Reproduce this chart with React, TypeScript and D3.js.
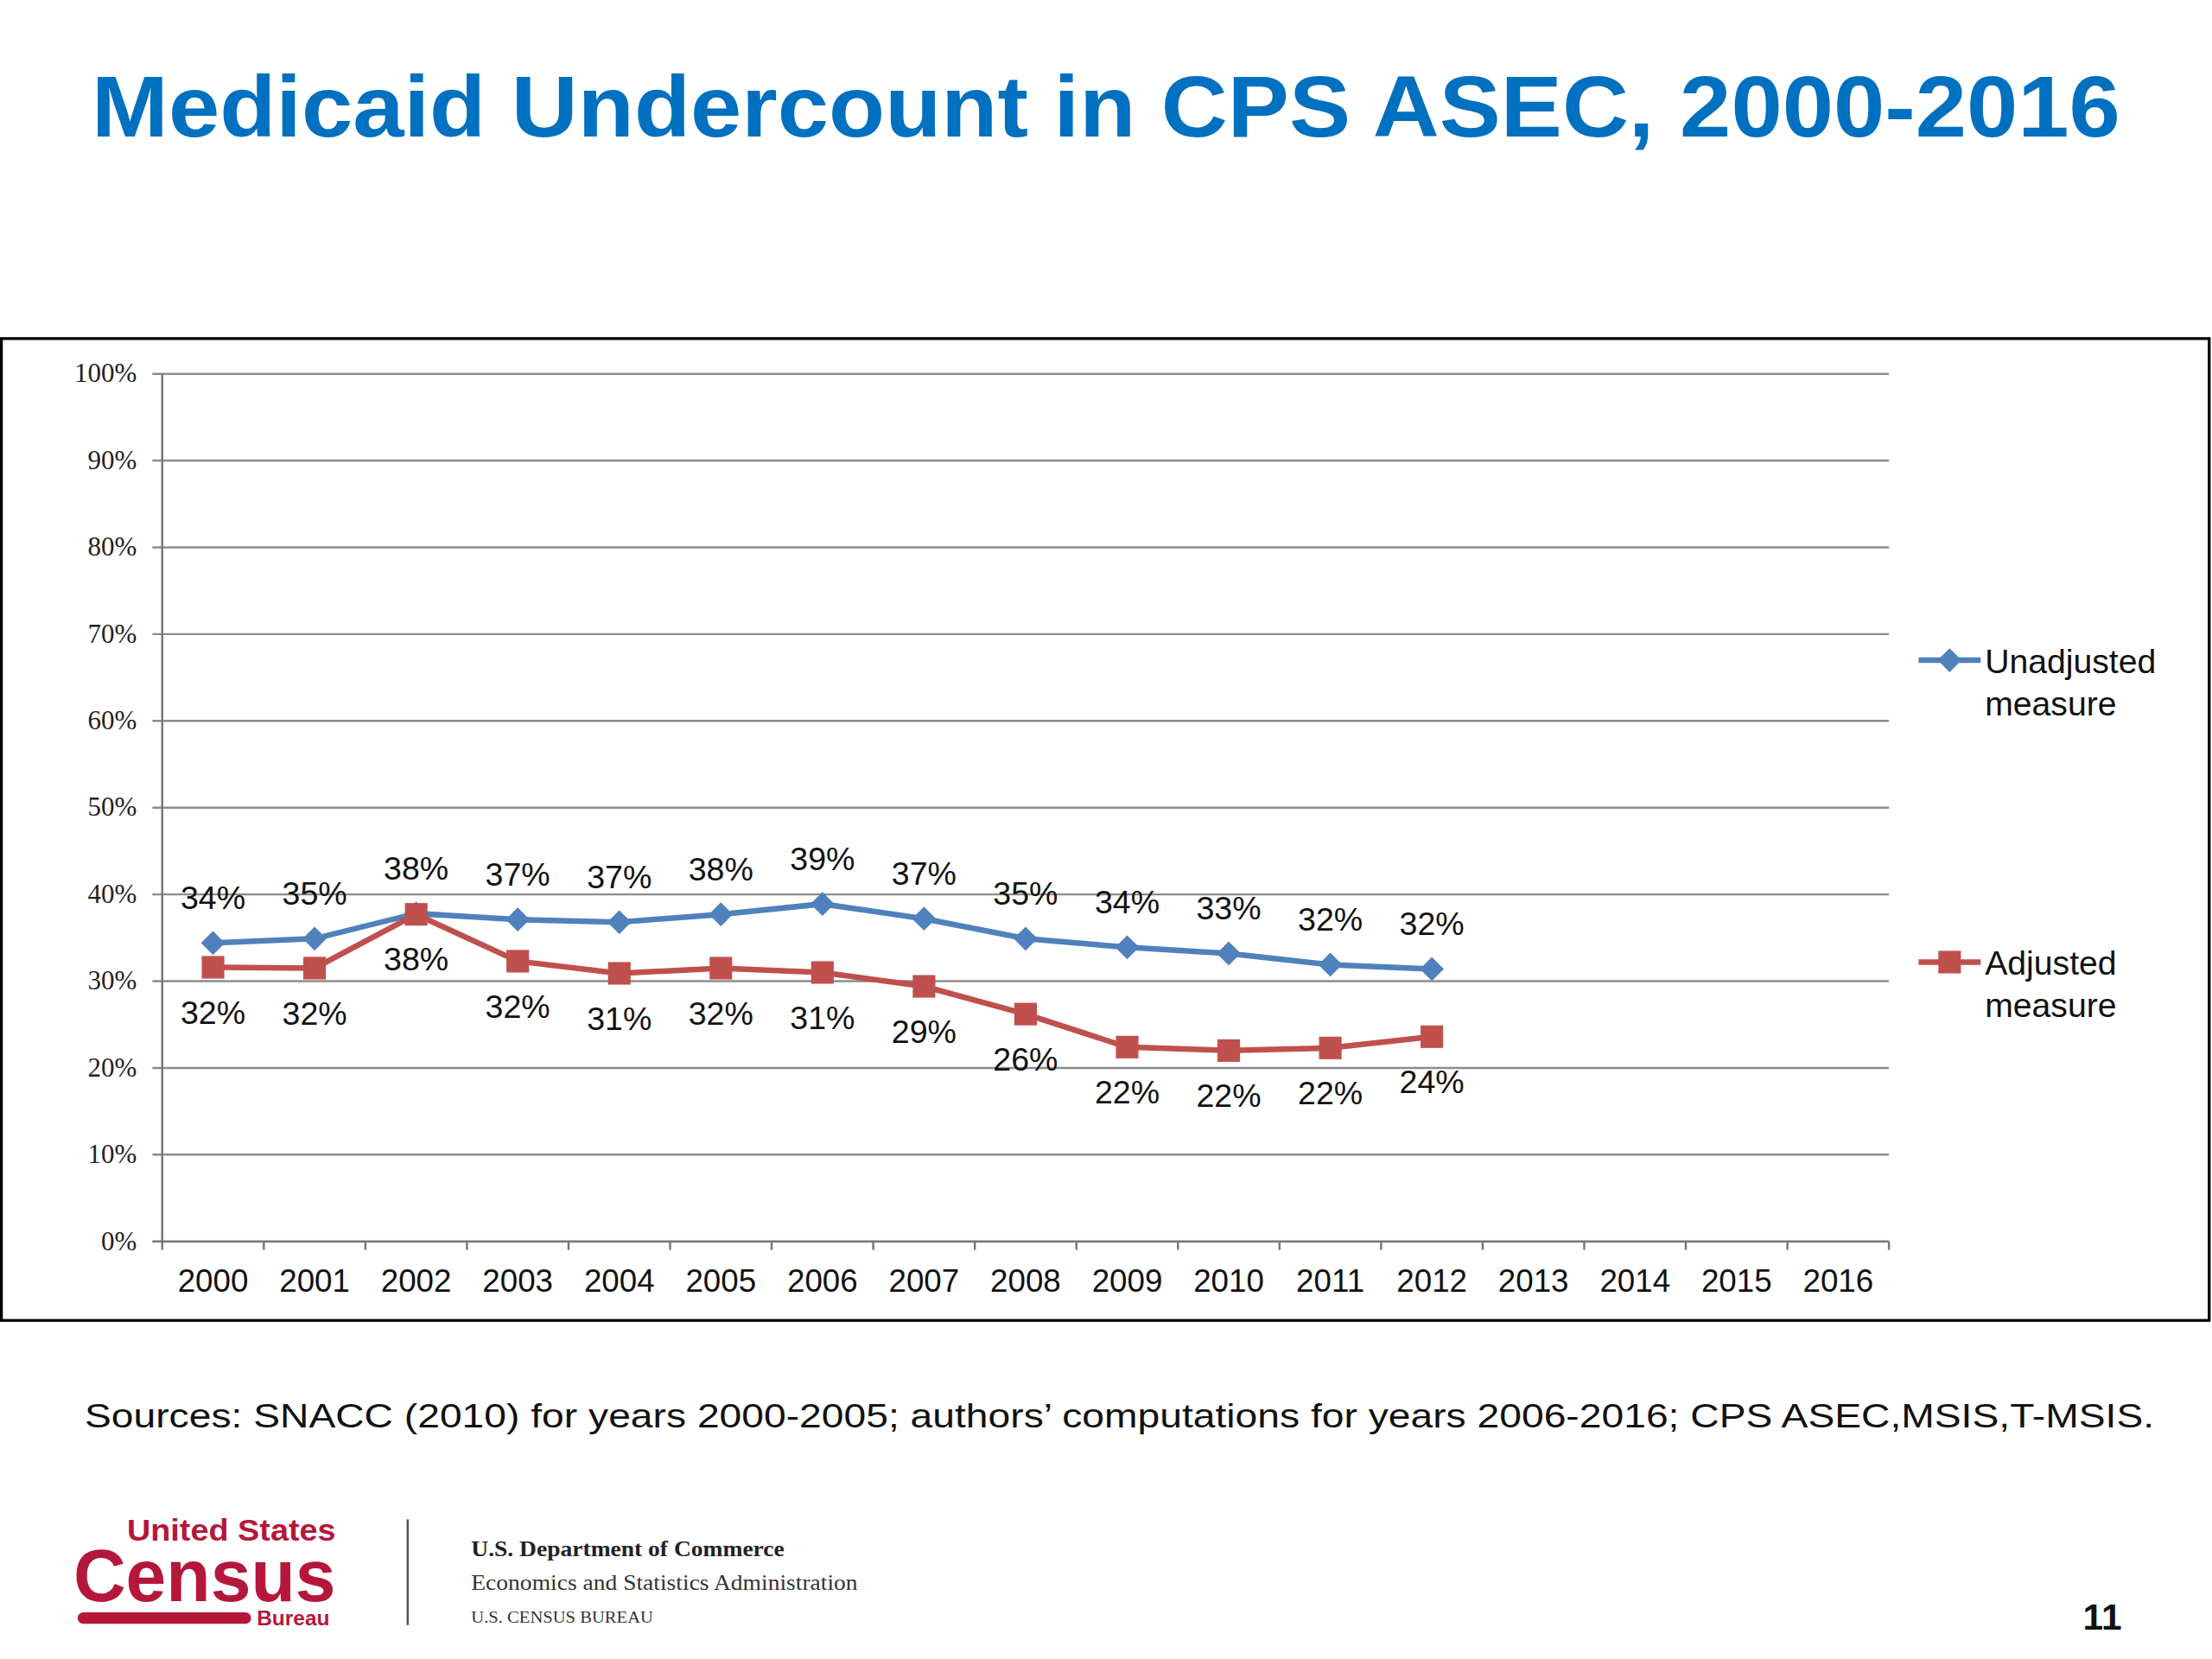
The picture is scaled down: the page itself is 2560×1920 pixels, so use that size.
import * as d3 from 'd3';

const years = ['2000','2001','2002','2003','2004','2005','2006','2007','2008','2009','2010','2011','2012','2013','2014','2015','2016'];
const unadjusted = [34.4, 34.9, 37.8, 37.1, 36.8, 37.7, 38.9, 37.2, 34.9, 33.9, 33.2, 31.9, 31.4];
const adjusted = [31.6, 31.5, 37.7, 32.3, 30.9, 31.5, 31.0, 29.4, 26.2, 22.4, 22.0, 22.3, 23.6];
const unadjustedLabels = ['34%','35%','38%','37%','37%','38%','39%','37%','35%','34%','33%','32%','32%'];
const adjustedLabels = ['32%','32%','38%','32%','31%','32%','31%','29%','26%','22%','22%','22%','24%'];
const yTicks = [0, 10, 20, 30, 40, 50, 60, 70, 80, 90, 100];

const BLUE = '#4f81bd';
const RED = '#c0504d';
const SANS = 'Arial, "Liberation Sans", sans-serif';
const SERIF = '"Times New Roman", "Liberation Serif", serif';

export default function App() {
  const W = 1568, H = 1176;
  const x = d3.scaleBand().domain(years).range([115, 1339]);
  const cx = (i: number) => x(years[i])! + x.bandwidth() / 2;
  const y = d3.scaleLinear().domain([0, 100]).range([880, 265]);
  const line = d3.line<number>().x((_, i) => cx(i)).y((d) => y(d));

  return (
    <div style={{ position: 'absolute', left: 0, top: 0 }}>
      <svg width={2560} height={1920} viewBox={`0 0 ${W} ${H}`}>
        <rect width={W} height={H} fill="#fff" />
        <text x={65} y={97} fontFamily={SANS} fontWeight="bold" fontSize={61} fill="#0070c0"
          textLength={1438} lengthAdjust="spacingAndGlyphs">
          Medicaid Undercount in CPS ASEC, 2000-2016
        </text>
        <rect x={1} y={240} width={1565} height={696} fill="none" stroke="#000" strokeWidth={2} />

        {yTicks.map((t) => (
          <g key={t}>
            <line x1={108} x2={1339} y1={y(t)} y2={y(t)} stroke={t === 0 ? '#777' : '#8c8c8c'} strokeWidth={1.5} />
            <text x={97} y={y(t) + 6} textAnchor="end" fontFamily={SERIF} fontSize={19} fill="#222">{t}%</text>
          </g>
        ))}
        <line x1={115} x2={115} y1={265} y2={886} stroke="#777" strokeWidth={1.5} />
        {years.map((yr, i) => (
          <g key={yr}>
            <line x1={x(yr)! + x.bandwidth()} x2={x(yr)! + x.bandwidth()} y1={880} y2={886} stroke="#777" strokeWidth={1.5} />
            <text x={cx(i)} y={916} textAnchor="middle" fontFamily={SANS} fontSize={22.5} fill="#111">{yr}</text>
          </g>
        ))}

        <path d={line(unadjusted)!} fill="none" stroke={BLUE} strokeWidth={4} />
        <path d={line(adjusted)!} fill="none" stroke={RED} strokeWidth={4} />
        {unadjusted.map((v, i) => (
          <rect key={'u' + i} x={-6} y={-6} width={12} height={12} fill={BLUE}
            transform={`translate(${cx(i)},${y(v)}) rotate(45)`} />
        ))}
        {adjusted.map((v, i) => (
          <rect key={'a' + i} x={cx(i) - 8} y={y(v) - 8} width={16} height={16} fill={RED} />
        ))}
        {unadjusted.map((v, i) => (
          <text key={'ul' + i} x={cx(i)} y={y(v) - 24} textAnchor="middle" fontFamily={SANS} fontSize={23} fill="#111">{unadjustedLabels[i]}</text>
        ))}
        {adjusted.map((v, i) => (
          <text key={'al' + i} x={cx(i)} y={y(v) + 40} textAnchor="middle" fontFamily={SANS} fontSize={23} fill="#111">{adjustedLabels[i]}</text>
        ))}

        <line x1={1360} x2={1404} y1={468} y2={468} stroke={BLUE} strokeWidth={4} />
        <rect x={-6} y={-6} width={12} height={12} fill={BLUE} transform="translate(1382,468) rotate(45)" />
        <text x={1407} y={477} fontFamily={SANS} fontSize={24} fill="#111">Unadjusted</text>
        <text x={1407} y={507} fontFamily={SANS} fontSize={24} fill="#111">measure</text>
        <line x1={1360} x2={1404} y1={682} y2={682} stroke={RED} strokeWidth={4} />
        <rect x={1374} y={674} width={16} height={16} fill={RED} />
        <text x={1407} y={691} fontFamily={SANS} fontSize={24} fill="#111">Adjusted</text>
        <text x={1407} y={721} fontFamily={SANS} fontSize={24} fill="#111">measure</text>

        <text x={60} y={1012} fontFamily={SANS} fontSize={24} fill="#111" textLength={1467} lengthAdjust="spacingAndGlyphs">
          Sources: SNACC (2010) for years 2000-2005; authors’ computations for years 2006-2016; CPS ASEC,MSIS,T-MSIS.
        </text>

        <text x={90} y={1092} fontFamily={SANS} fontWeight="bold" fontSize={21} fill="#b5173b" textLength={148} lengthAdjust="spacingAndGlyphs">United States</text>
        <text x={52} y={1135} fontFamily={SANS} fontWeight="bold" fontSize={52} fill="#b5173b" textLength={186} lengthAdjust="spacingAndGlyphs">Census</text>
        <rect x={55} y={1143} width={123} height={8} rx={4} fill="#b5173b" />
        <text x={182} y={1152} fontFamily={SANS} fontWeight="bold" fontSize={15} fill="#b5173b">Bureau</text>
        <line x1={289} x2={289} y1={1077} y2={1152} stroke="#555" strokeWidth={1.5} />
        <text x={334} y={1103} fontFamily={SERIF} fontWeight="bold" fontSize={15} fill="#222" textLength={222} lengthAdjust="spacingAndGlyphs">U.S. Department of Commerce</text>
        <text x={334} y={1127} fontFamily={SERIF} fontSize={15} fill="#333" textLength={274} lengthAdjust="spacingAndGlyphs">Economics and Statistics Administration</text>
        <text x={334} y={1150} fontFamily={SERIF} fontSize={11.5} fill="#333" textLength={129} lengthAdjust="spacingAndGlyphs">U.S. CENSUS BUREAU</text>
        <text x={1504} y={1155} textAnchor="end" fontFamily={SANS} fontWeight="bold" fontSize={26} fill="#111">11</text>
      </svg>
    </div>
  );
}
